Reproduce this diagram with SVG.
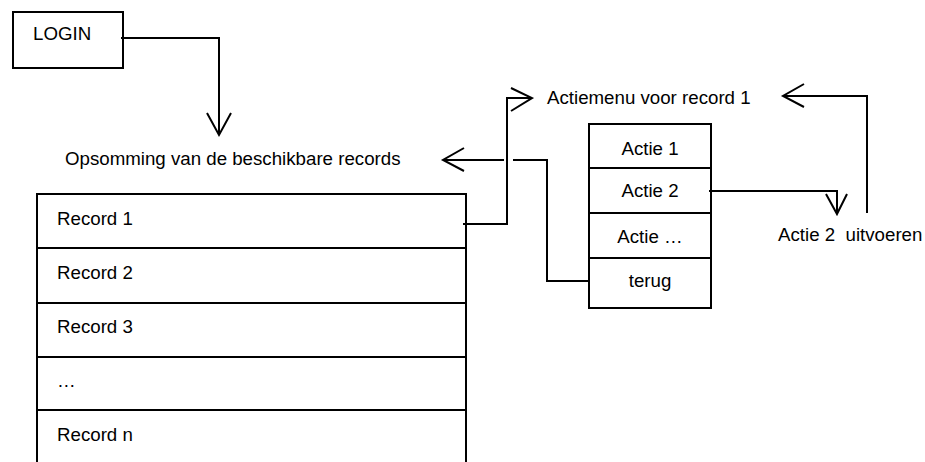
<svg xmlns="http://www.w3.org/2000/svg" width="925" height="462" viewBox="0 0 925 462">
<style>
text{font-family:"Liberation Sans",Arial,sans-serif;font-size:18.7px;fill:#000}
.b{fill:#fff;stroke:#000;stroke-width:2}
.l{fill:none;stroke:#000;stroke-width:2}
.m{text-anchor:middle}
</style>
<rect width="925" height="462" fill="#fff"/>
<g id="login"><rect class="b" x="13" y="12" width="110" height="56"/><text x="33" y="40">LOGIN</text></g>
<g id="opsomming-label"><text x="65" y="165">Opsomming van de beschikbare records</text></g>
<g id="records">
<rect class="b" x="37" y="194" width="429" height="280"/>
<path class="l" d="M37 248H466M37 303H466M37 357H466M37 410H466"/>
<text x="57" y="225">Record 1</text>
<text x="57" y="279">Record 2</text>
<text x="57" y="333">Record 3</text>
<text x="57" y="387">…</text>
<text x="57" y="441">Record n</text>
</g>
<g id="actiemenu-label"><text x="547" y="104">Actiemenu voor record 1</text></g>
<g id="acties">
<rect class="b" x="589" y="124" width="122" height="184"/>
<path class="l" d="M589 168H711M589 213H711M589 258H711"/>
<text class="m" x="650" y="155">Actie 1</text>
<text class="m" x="650" y="197">Actie 2</text>
<text class="m" x="650" y="243">Actie …</text>
<text class="m" x="650" y="287">terug</text>
</g>
<g id="uitvoeren"><text x="778" y="241" xml:space="preserve">Actie 2  uitvoeren</text></g>
<g id="connectors">
<path class="l" d="M121 38H219V135M207 113L219 135L231 113"/>
<path class="l" d="M463 224H507V98H532M511 88L532 98L511 111"/>
<path class="l" d="M443 160H504M513 160H547V281H589M464 148L443 160L464 171"/>
<path class="l" d="M709 191H837V214M826 194L837 214L847 194"/>
<path class="l" d="M867 213V96H783M804 84L783 96L804 107"/>
</g>
</svg>
